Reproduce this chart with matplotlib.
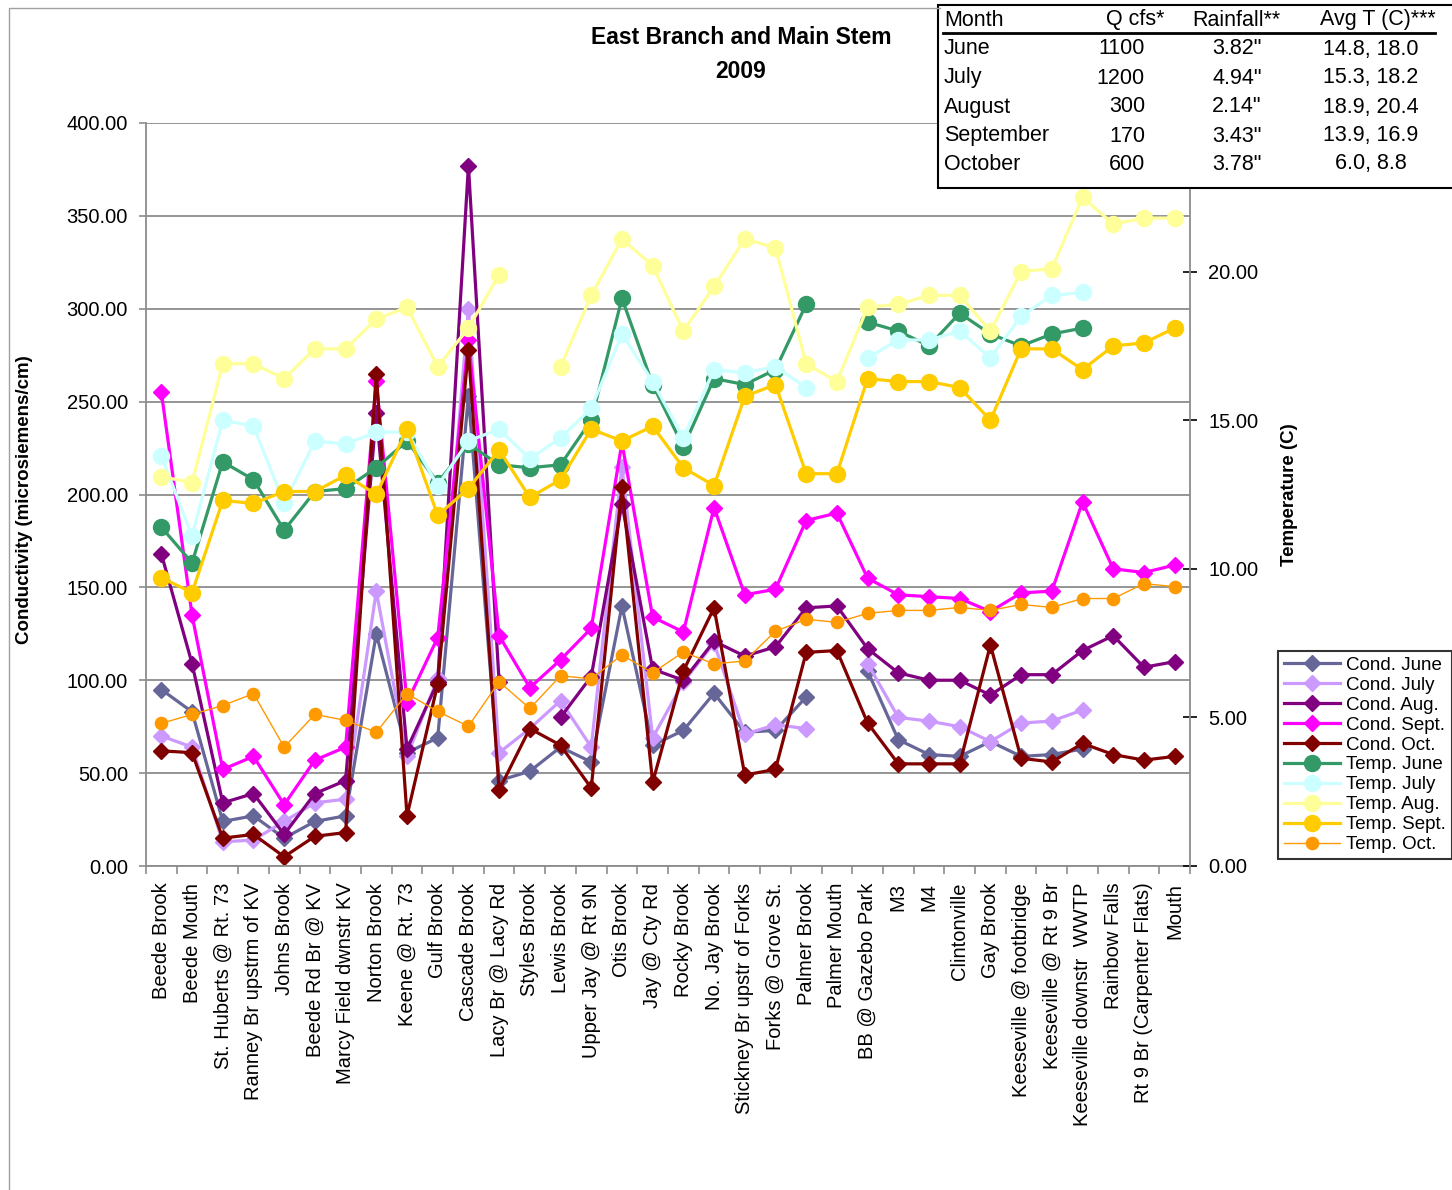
import numpy as np
import matplotlib
matplotlib.use("Agg")
import matplotlib.pyplot as plt
from matplotlib.patches import Rectangle
from matplotlib.ticker import FixedLocator, FuncFormatter

plt.rcParams['font.family'] = ['Liberation Sans', 'DejaVu Sans']

nan = np.nan

sites = ["Beede Brook", "Beede Mouth", "St. Huberts @ Rt. 73", "Ranney Br upstrm of KV",
         "Johns Brook", "Beede Rd Br @ KV", "Marcy Field dwnstr KV", "Norton Brook",
         "Keene @ Rt. 73", "Gulf Brook", "Cascade Brook", "Lacy Br @ Lacy Rd",
         "Styles Brook", "Lewis Brook", "Upper Jay @ Rt 9N", "Otis Brook",
         "Jay @ Cty Rd", "Rocky Brook", "No. Jay Brook", "Stickney Br upstr of Forks",
         "Forks @ Grove St.", "Palmer Brook", "Palmer Mouth", "BB @ Gazebo Park",
         "M3", "M4", "Clintonville", "Gay Brook", "Keeseville @ footbridge",
         "Keeseville @ Rt 9 Br", "Keeseville downstr  WWTP", "Rainbow Falls",
         "Rt 9 Br (Carpenter Flats)", "Mouth"]

cond_june = [95, 83, 24, 27, 15, 24, 27, 125, 61, 69, 253, 46, 51, 64, 56, 140, 65, 73,
             93, 72, 73, 91, nan, 105, 68, 60, 59, 67, 59, 60, 63, nan, nan, nan]
cond_july = [70, 64, 13, 14, 24, 34, 36, 148, 59, 101, 300, 61, 74, 89, 64, 215, 69, 99,
             120, 71, 76, 74, nan, 109, 80, 78, 75, 67, 77, 78, 84, nan, nan, nan]
cond_aug = [168, 109, 34, 39, 17, 39, 46, 244, 63, 99, 377, 99, nan, 80, 102, 195, 106, 100,
            121, 113, 118, 139, 140, 117, 104, 100, 100, 92, 103, 103, 116, 124, 107, 110]
cond_sept = [255, 135, 52, 59, 33, 57, 64, 261, 88, 123, 283, 124, 96, 111, 128, 228, 134, 126,
             193, 146, 149, 186, 190, 155, 146, 145, 144, 137, 147, 148, 196, 160, 158, 162]
cond_oct = [62, 61, 15, 17, 5, 16, 18, 265, 27, 98, 278, 41, 74, 65, 42, 204, 45, 105,
            139, 49, 52, 115, 116, 77, 55, 55, 55, 119, 58, 56, 66, 60, 57, 59]

temp_june = [11.4, 10.2, 13.6, 13.0, 11.3, 12.6, 12.7, 13.4, 14.3, 12.9, 14.2, 13.5, 13.4, 13.5,
             15.0, 19.1, 16.2, 14.1, 16.4, 16.2, 16.7, 18.9, nan, 18.3, 18.0, 17.5, 18.6, 17.9,
             17.5, 17.9, 18.1, nan, nan, nan]
temp_july = [13.8, 11.1, 15.0, 14.8, 12.2, 14.3, 14.2, 14.6, 14.6, 12.8, 14.3, 14.7, 13.7, 14.4,
             15.4, 17.9, 16.3, 14.4, 16.7, 16.6, 16.8, 16.1, nan, 17.1, 17.7, 17.7, 18.0, 17.1,
             18.5, 19.2, 19.3, nan, nan, nan]
temp_aug = [13.1, 12.9, 16.9, 16.9, 16.4, 17.4, 17.4, 18.4, 18.8, 16.8, 18.1, 19.9, nan, 16.8,
            19.2, 21.1, 20.2, 18.0, 19.5, 21.1, 20.8, 16.9, 16.3, 18.8, 18.9, 19.2, 19.2, 18.0,
            20.0, 20.1, 22.5, 21.6, 21.8, 21.8]
temp_sept = [9.7, 9.2, 12.3, 12.2, 12.6, 12.6, 13.15, 12.5, 14.7, 11.8, 12.7, 14.0, 12.4, 13.0,
             14.7, 14.3, 14.8, 13.4, 12.8, 15.8, 16.2, 13.2, 13.2, 16.4, 16.3, 16.3, 16.1, 15.0,
             17.4, 17.4, 16.7, 17.5, 17.6, 18.1]
temp_oct = [4.8, 5.1, 5.4, 5.8, 4.0, 5.1, 4.9, 4.5, 5.8, 5.2, 4.7, 6.2, 5.3, 6.4, 6.3, 7.1,
            6.5, 7.2, 6.8, 6.9, 7.9, 8.3, 8.2, 8.5, 8.6, 8.6, 8.7, 8.6, 8.8, 8.7, 9.0, 9.0,
            9.5, 9.4]

cond_labels = ["Cond. June", "Cond. July", "Cond. Aug.", "Cond. Sept.", "Cond. Oct."]
temp_labels = ["Temp. June", "Temp. July", "Temp. Aug.", "Temp. Sept.", "Temp. Oct."]
cond_colors = ["#666699", "#CC99FF", "#800080", "#FF00FF", "#800000"]
temp_colors = ["#339966", "#CCFFFF", "#FFFF99", "#FFCC00", "#FF9900"]

table_header = ["Month", "Q cfs*", "Rainfall**", "Avg T (C)***"]
table_months = ["June", "July", "August", "September", "October"]
table_q = ["1100", "1200", "300", "170", "600"]
table_rain = ['3.82"', '4.94"', '2.14"', '3.43"', '3.78"']
table_temp = ["14.8, 18.0", "15.3, 18.2", "18.9, 20.4", "13.9, 16.9", "6.0, 8.8"]

W, H = 1452, 1190
fig = plt.figure(figsize=(W / 100, H / 100), dpi=100)
L, R, T, B = 146, 1190, 123, 866
ax = fig.add_axes([L / W, 1 - B / H, (R - L) / W, (B - T) / H])
ax2 = ax.twinx()

x = np.arange(len(sites))
handles = []
for vals, c, lab in zip([cond_june, cond_july, cond_aug, cond_sept, cond_oct], cond_colors, cond_labels):
    h, = ax.plot(x, vals, color=c, lw=2.3, marker='D', ms=8.2, mec=c, mfc=c, label=lab)
    handles.append(h)
for i, (vals, c, lab) in enumerate(zip([temp_june, temp_july, temp_aug, temp_sept, temp_oct], temp_colors, temp_labels)):
    if i < 4:
        h, = ax2.plot(x, vals, color=c, lw=2.3, marker='o', ms=11.5, mec=c, mfc=c, label=lab)
    else:
        h, = ax2.plot(x, vals, color=c, lw=1.0, marker='o', ms=8.8, mec=c, mfc=c, label=lab)
    handles.append(h)

ax.set_xlim(-0.5, len(sites) - 0.5)
ax.set_ylim(0, 400)
ax2.set_ylim(0, 25)
ax.set_yticks(np.arange(0, 401, 50))
ax.yaxis.set_major_formatter(FuncFormatter(lambda v, p: f"{v:.2f}"))
# the 25.00 tick lies hidden behind the summary table in the reference
ax2.set_yticks(np.arange(0, 21, 5))
ax2.yaxis.set_major_formatter(FuncFormatter(lambda v, p: f"{v:.2f}"))
ax.grid(axis='y', color='#8c8c8c', lw=1.3)
ax.set_axisbelow(True)

ax.set_xticks(x)
ax.set_xticklabels(sites, rotation=90, fontsize=14.5)
ax.xaxis.set_minor_locator(FixedLocator(np.arange(-0.5, len(sites), 1)))
ax.tick_params(axis='x', which='major', length=0, pad=12)
ax.tick_params(axis='x', which='minor', length=6, color='#8c8c8c', width=1.2, direction='out')
ax.tick_params(axis='y', labelsize=14.5, length=5, color='#8c8c8c', width=1.2, pad=8)
ax2.tick_params(axis='y', labelsize=14.5, length=10, color='black', width=1.2, direction='inout', pad=8)

for sp in ['top']:
    ax.spines[sp].set_visible(False)
    ax2.spines[sp].set_visible(False)
ax.spines['left'].set_color('#8c8c8c')
ax.spines['left'].set_linewidth(1.3)
ax.spines['bottom'].set_color('#8c8c8c')
ax.spines['bottom'].set_linewidth(1.3)
ax2.spines['right'].set_color('#8c8c8c')
ax2.spines['right'].set_linewidth(1.3)
ax2.spines['left'].set_visible(False)
ax2.spines['bottom'].set_visible(False)
ax.spines['right'].set_visible(False)

fig.text(25 / W, 1 - 500 / H, "Conductivity (microsiemens/cm)", rotation=90, fontsize=13.5,
         fontweight='bold', ha='center', va='center')
fig.text(1290 / W, 1 - 495 / H, "Temperature (C)", rotation=90, fontsize=13.5,
         fontweight='bold', ha='center', va='center')
fig.text(741 / W, 1 - 38 / H, "East Branch and Main Stem", fontsize=16.5, fontweight='bold',
         ha='center', va='center')
fig.text(741 / W, 1 - 72 / H, "2009", fontsize=16.5, fontweight='bold', ha='center', va='center')

leg = fig.legend(handles=handles, loc='upper left', bbox_to_anchor=(1278 / W, 1 - 651 / H),
                 fontsize=13.5, frameon=True, fancybox=False, edgecolor='black',
                 labelspacing=0.15, handlelength=3.0, handletextpad=0.35, borderpad=0.3,
                 borderaxespad=0)
leg.get_frame().set_linewidth(1.5)

ov = fig.add_axes([0, 0, 1, 1], zorder=10)
ov.set_xlim(0, W)
ov.set_ylim(H, 0)
ov.axis('off')
ov.plot([8.5, 8.5, 940], [H, 7.5, 7.5], color='#a0a0a0', lw=1.0)
ov.add_patch(Rectangle((938, 5), 540, 183, facecolor='white', edgecolor='black', lw=1.5, clip_on=False))
ov.plot([943, 1435], [33, 33], color='black', lw=2)
ys = [20, 49, 78, 107, 136, 164]
fs = 15.5
ov.text(944, ys[0], table_header[0], fontsize=fs, ha='left', va='center')
ov.text(1135, ys[0], table_header[1], fontsize=fs, ha='center', va='center')
ov.text(1236, ys[0], table_header[2], fontsize=fs, ha='center', va='center')
ov.text(1378, ys[0], table_header[3], fontsize=fs, ha='center', va='center')
for i in range(5):
    y = ys[i + 1]
    ov.text(944, y, table_months[i], fontsize=fs, ha='left', va='center')
    ov.text(1145, y, table_q[i], fontsize=fs, ha='right', va='center')
    ov.text(1237, y, table_rain[i], fontsize=fs, ha='center', va='center')
    ov.text(1371, y, table_temp[i], fontsize=fs, ha='center', va='center')

fig.savefig("out.png", dpi=100)
